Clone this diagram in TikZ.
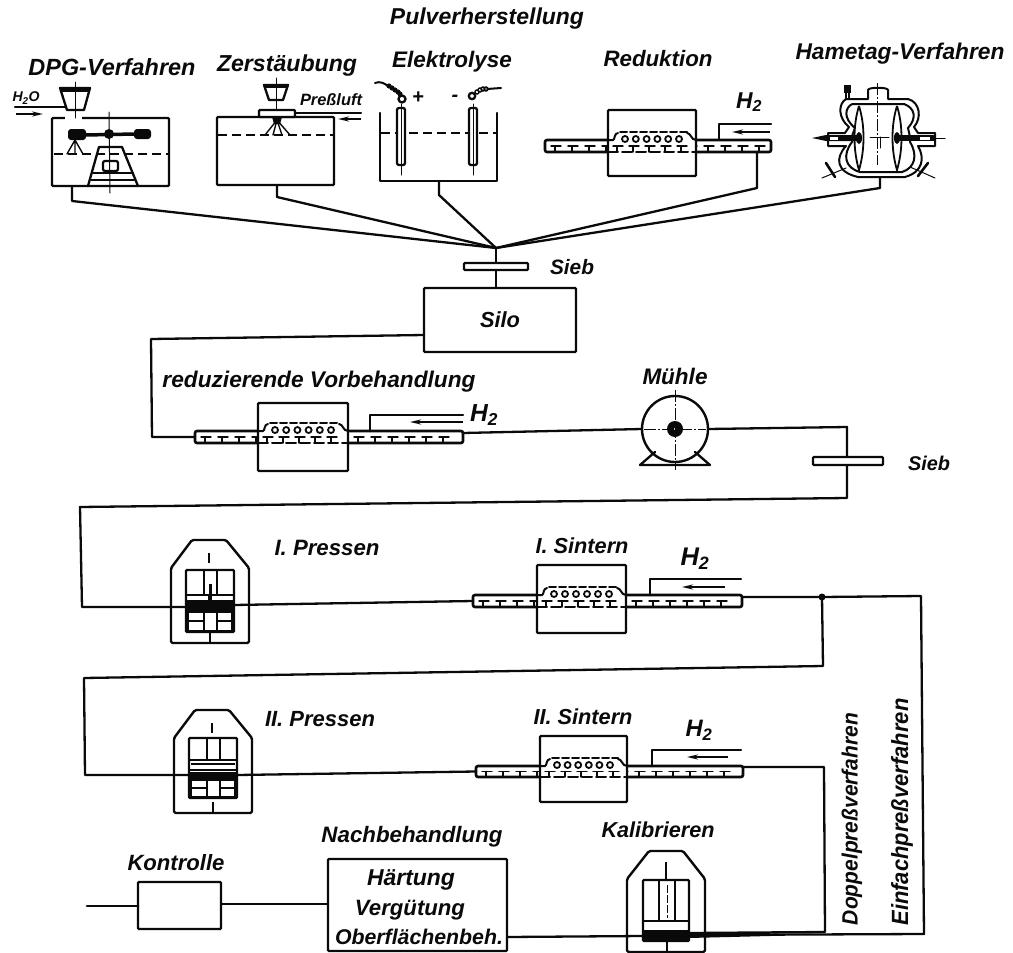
\documentclass[tikz,border=0pt]{standalone}
\usepackage{fontspec}
\setmainfont{Liberation Sans}
\usepackage{graphicx}
\usetikzlibrary{arrows.meta}
\definecolor{ink}{gray}{0.04}
\tikzset{
  ln/.style={line width=2.3pt,draw=ink,line join=round,line cap=round},
  thinln/.style={line width=1.4pt,draw=ink,line cap=round},
  procbox/.style={draw=ink,fill=white,line width=2.4pt,inner sep=0pt,outer sep=0pt,rounded corners=1pt},
  tubebox/.style={draw=ink,fill=white,line width=2.6pt,inner sep=0pt,outer sep=0pt,rounded corners=2pt},
  lab/.style={inner sep=0pt,outer sep=0pt,text=ink,font=\fontsize{20}{22}\selectfont\bfseries\itshape},
  flow/.style={line width=2pt,draw=ink,-{Stealth[length=11pt,width=5pt]}},
  level/.style={line width=2pt,draw=ink,dash pattern=on 9pt off 5pt},
  axis/.style={line width=1pt,draw=ink,dash pattern=on 12pt off 2pt on 2pt off 2pt},
}
% label scaled to a given width
\newcommand\lb[5]{\node[lab] (#1) at (#2,#3) {\resizebox{#4pt}{!}{#5}};}
% box by corners
\newcommand\bx[6][procbox]{\node[#1,minimum width={(#5-#3)*1pt},minimum height={(#6-#4)*1pt}] (#2) at ({(#3+#5)/2},{(#4+#6)/2}) {};}
% furnace: name, tube x1 x2 y1 y2, box x1 x2 y1 y2
\newcommand\furn[9]{%
  \bx[tubebox]{#1t}{#2}{#4}{#3}{#5}
  \pgfmathsetmacro\ymid{(#4+#5)/2}
  \foreach \q in {0,1,...,15}{
    \pgfmathsetmacro\xa{#2+6+\q*17}
    \pgfmathparse{\xa+10<#3 ? 1:0}
    \ifnum\pgfmathresult=1
      \draw[thinln] (\xa,\ymid) -- ++(10,0);
      \draw[thinln] (\xa+4,\ymid) -- (\xa+4,#5);
    \fi
  }
  \bx{#1}{#6}{#8}{#7}{#9}
  \draw[thinln,line width=2pt] (#6,#4) -- (#6+5,#4) .. controls (#6+7,#4) and (#6+6,#4-7) .. (#6+10,#4-7);
  \draw[thinln,line width=2pt,dash pattern=on 7pt off 3pt] (#6+12,#4-8) -- (#7-9,#4-8);
  \draw[thinln,line width=2pt] (#7-9,#4-7) .. controls (#7-5,#4-7) and (#7-5,#4) .. (#7,#4);
  \foreach \q in {0,...,5}
    \draw[thinln,line width=1.8pt] ({#6+17+\q*(#7-#6-34)/5},#4-1) circle (3pt);
  \draw[thinln,line width=2pt,dash pattern=on 10pt off 4pt] (#6,#5) -- (#7,#5);
  \foreach \q in {0,1,2,3,4}{
    \pgfmathsetmacro\xa{#6+5+\q*16}
    \draw[thinln] (\xa,\ymid) -- ++(10,0);
    \draw[thinln] (\xa+4,\ymid) -- (\xa+4,#5);
  }
}
% gas feed: name, pipe x, pipe top, tube top, end x, arrow x1, x2, y
\newcommand\feed[8]{%
  \coordinate (#1a) at (#2,#4);
  \coordinate (#1b) at (#5,#3);
  \draw[ln] (#1a) |- (#1b);
  \coordinate (#1c) at (#7,#8);
  \coordinate (#1d) at (#6,#8);
  \draw[flow] (#1c) -- (#1d);
}
\newcommand\pressbody{%
  \draw[ln,line width=2.4pt,rounded corners=1.5pt] (171,568) -- (192,540) -- (226,540) -- (249,568) -- (249,643) -- (171,643) -- cycle;
  \draw[line width=1.2pt,draw=ink] (209,553) -- (209,563);
  \draw[line width=1.2pt,draw=ink] (210,632) -- (210,643);
}
\begin{document}
\begin{tikzpicture}[x=1pt,y=-1pt]
\useasboundingbox (0,0) rectangle (1013,953);
\fill[white] (0,0) rectangle (1013,953);

%%% Labels
\lb{title}{487}{19}{194}{Pulverherstellung}
\lb{ldpg}{112}{67}{167}{DPG-Verfahren}
\lb{lzer}{287}{66}{140}{Zerstäubung}
\lb{lele}{452}{62}{120}{Elektrolyse}
\lb{lred}{658}{59}{109}{Reduktion}
\lb{lham}{900}{54}{209}{Hametag-Verfahren}
\lb{lsieb}{572}{267}{44}{Sieb}
\lb{lvor}{319}{382}{313}{reduzierende Vorbehandlung}
\lb{lmuh}{675}{376}{65}{Mühle}
\lb{lsieb2}{929}{463}{42}{Sieb}
\lb{lp1}{327}{548}{105}{I. Pressen}
\lb{ls1}{582}{546}{93}{I. Sintern}
\lb{lp2}{320}{719}{110}{II. Pressen}
\lb{ls2}{583}{717}{99}{II. Sintern}
\lb{lkon}{176}{863}{97}{Kontrolle}
\lb{lnach}{412}{837}{181}{Nachbehandlung}
\lb{lkal}{658}{830}{113}{Kalibrieren}
\lb{lh1}{749}{102}{26}{H\textsubscript{2}}
\lb{lh2}{484}{415}{28}{H\textsubscript{2}}
\lb{lh3}{695}{559}{29}{H\textsubscript{2}}
\lb{lh4}{699}{730}{27}{H\textsubscript{2}}
\node[lab,rotate=90] (ldop) at (852,819) {\resizebox{212pt}{16pt}{Doppelpreßverfahren}};
\node[lab,rotate=90] (lein) at (902,812) {\resizebox{227pt}{17pt}{Einfachpreßverfahren}};

%%% DPG
\bx{dpg}{52}{118}{169}{186}
\fill[white] (65,115) rectangle (82,121);
\draw[level] (54,154) -- (169,154);
\draw[ln] (60,88) -- (90,88) -- (84,110) -- (67,110) -- cycle;
\fill[ink] (60,88) rectangle (90,92);
\draw[thinln,line width=1pt] (75,82) -- (75,118);
\draw[ln] (15,107) -- (66,107);
\coordinate (wa) at (16,114); \coordinate (wb) at (43,114);
\draw[flow] (wa) -- (wb);
\lb{lwater}{26}{98}{27}{H\textsubscript{2}O}
\fill[ink,rounded corners=3pt] (68,129) rectangle (86,140);
\fill[ink,rounded corners=3pt] (134,129) rectangle (151,139);
\draw[ink,line width=3.5pt] (85,135) -- (135,134);
\fill[ink] (109,134) circle (5pt);
\draw[thinln,line width=1pt] (109,112) -- (110,193);
\draw[thinln,line width=1.4pt] (75,140) -- (67,154) (75,140) -- (75,154) (75,140) -- (83,154);
\draw[ln] (88,186) -- (99,147) -- (122,147) -- (138,186);
\draw[thinln] (93,173) -- (133,173) (91,180) -- (135,180);
\draw[ln,rounded corners=2pt] (103,161) rectangle (118,171);

%%% Zerstaeubung
\bx{zer}{217}{117}{334}{185}
\draw[level] (218,135) -- (334,135);
\draw[ln] (264,85) -- (288,85) -- (283,100) -- (269,100) -- cycle;
\fill[ink] (264,85) rectangle (288,88);
\draw[thinln,line width=1pt] (276,78) -- (276,118);
\bx{zerlid}{259}{110}{295}{117}
\fill[ink] (272,117) -- (282,117) -- (280,124) -- (274,124) -- cycle;
\draw[thinln,line width=1.4pt] (277,120) -- (265,135) (277,120) -- (273,135) (277,120) -- (282,135) (277,120) -- (290,135);
\lb{lpress}{331}{100}{62}{Preßluft}
\coordinate (za) at (361,113);
\draw[ln] (zerlid.east |- za) -- (za);
\coordinate (zb) at (361,119); \coordinate (zc) at (338,119);
\draw[flow] (zb) -- (zc);

%%% Elektrolyse
\coordinate (ta) at (380,113); \coordinate (tb) at (497,113);
\draw[ln] (ta) -- (380,181) -- (497,181) -- (tb);
\draw[level] (381,133) -- (497,133);
\draw[ln,fill=white,rounded corners=2pt] (397,108) rectangle (405,165);
\draw[ln,fill=white,rounded corners=2pt] (469,108) rectangle (477,165);
\draw[thinln,line width=1pt] (401,104) -- (401,175) (473,104) -- (473,175);
\draw[ln] (402,99) circle (3.5pt) (472,96) circle (3.2pt);
\draw[ln,line width=2pt] (375,83) .. controls (380,81) and (384,83) .. (388,86);
\foreach \p in {(389,86),(392,88),(395,90),(398,92),(400,94)} \fill[ink] \p circle (2.6pt);
\foreach \p in {(477,92),(480,90),(483,89),(486,89)} \draw[ink,line width=1.4pt] \p circle (2pt);
\draw[ln,line width=2pt] (487,89) -- (501,88);
\node[lab] (lplus) at (418,98) {+};
\node[lab] (lminus) at (455,98) {-};

%%% Reduktion
\furn{red}{545}{771}{140}{152}{608}{696}{110}{176}
\feed{redg}{719}{124}{140}{771}{732}{770}{132}

%%% Hametag
\draw[line width=2pt,draw=ink,line join=round] (846,99) -- (868,99) -- (868,90) .. controls (868,87) and (888,87) .. (888,90) -- (888,99) -- (908,99)
  .. controls (920,102) and (922,118) .. (914,127) -- (918,133) -- (935,133) -- (935,146) -- (918,146)
  .. controls (925,158) and (923,172) .. (905,177) -- (858,177)
  .. controls (836,172) and (835,158) .. (846,146) -- (828,146) -- (828,133) -- (845,133) -- (849,127)
  .. controls (838,118) and (838,104) .. (846,99) -- cycle;
\draw[line width=2pt,draw=ink] (852,104) -- (904,104) .. controls (915,108) and (917,118) .. (908,128) -- (910,137) -- (910,142) .. controls (918,155) and (915,168) .. (902,172) -- (860,172)
  .. controls (845,168) and (842,155) .. (852,142) -- (852,136) -- (855,128) .. controls (843,118) and (845,108) .. (852,104);
\draw[line width=1.8pt,draw=ink,fill=white] (859,106) .. controls (853,125) and (853,150) .. (859,170) .. controls (865,150) and (865,125) .. (859,106);
\draw[line width=1.8pt,draw=ink,fill=white] (897,106) .. controls (891,125) and (891,150) .. (897,170) .. controls (903,150) and (903,125) .. (897,106);
\fill[ink] (897,138) ellipse (3pt and 6pt) (859,138) ellipse (3pt and 6pt);
\fill[ink] (812,138) -- (826,135) -- (858,135) -- (858,141) -- (826,141) -- cycle;
\fill[white] (830,137) rectangle (838,139.5);
\fill[ink] (897,135) rectangle (935,141);
\fill[white] (920,137) rectangle (930,139.5);
\draw[thinln,line width=1pt] (935,138) -- (945,138) (870,137) -- (889,137) (880,137) -- (880,148);
\draw[axis] (877,83) -- (877,165);
\fill[ink] (844,85) rectangle (851,93);
\draw[thinln] (846,93) -- (846,99) (849,93) -- (849,99);
\draw[ln,line width=2.6pt] (826,163) -- (835,177) (918,176) -- (928,163);
\draw[thinln,line width=1pt] (822,178) -- (846,168) (910,167) -- (935,178);
\coordinate (hamout) at (880,178);

%%% Junction, sieve, silo
\coordinate (J) at (496,248);
\coordinate (dpgo) at (72,186); \coordinate (zero) at (277,185);
\coordinate (eleo) at (439,181); \coordinate (redo) at (757,152);
\draw[ln] (dpgo) -- (72,201) -- (J);
\draw[ln] (zero) -- (277,197) -- (J);
\draw[ln] (eleo) -- (439,195) -- (J);
\draw[ln] (redo) -- (757,188) -- (J);
\draw[ln] (hamout) -- (880,188) -- (J);
\bx{silo}{424}{288}{576}{352}
\lb{lsilo}{500}{320}{40}{Silo}
\draw[ln] (J) -- (silo.north -| J);
\bx{siebA}{464}{263}{528}{270}

%%% Vorbehandlung + Muehle
\furn{vor}{195}{463}{431}{443}{258}{348}{403}{471}
\feed{vorg}{370}{415}{431}{463}{410}{463}{422}
\coordinate (silol) at (424,335);
\coordinate (c1) at (151,339); \coordinate (c2) at (152,437);
\draw[ln] (silol) -- (c1) -- (c2) -- (vort.west);
\node[draw=ink,line width=2.4pt,circle,minimum size=66pt,inner sep=0pt,outer sep=0pt,fill=white] (muhle) at (675,429) {};
\coordinate (vorr) at (463,433);
\draw[ln] (vorr) -- (muhle.west);
\draw[ln] (655,452) -- (640,465) -- (710,465) -- (695,452);
\fill[ink] (muhle.center) circle (8pt);
\fill[white] (muhle.center) circle (1.2pt);
\draw[axis] (675,390) -- (675,470) (644,429) -- (706,429);
\bx{siebB}{813}{457}{883}{465}
\coordinate (c3) at (847,427); \coordinate (c4) at (847,498);
\coordinate (c5) at (80,507); \coordinate (c6) at (82,607);
\draw[ln] (muhle.east) -- (c3) -- (siebB.north -| c3);
\draw[ln] (siebB.south -| c3) -- (c4) -- (c5) -- (c6) -- (186,607);

%%% I. Pressen
\pressbody
\bx{pressA}{186}{570}{234}{632}
\fill[ink] (186,602) rectangle (234,612);
\draw[ln,line width=1.8pt] (204,571) -- (204,594) (217,571) -- (217,594);
\draw[ink,line width=1.8pt] (186,595) -- (234,595);
\draw[ink,line width=1.8pt] (186,601) -- (234,601) (209,595) -- (209,601);
\fill[ink] (209,584) rectangle (212,600);
\draw[ink,line width=1.8pt] (188,612) rectangle (232,631);
\draw[ink,line width=1.8pt] (189,621) -- (204,621) (217,621) -- (232,621) (204,612) -- (204,631) (217,612) -- (217,631);

%%% I. Sintern
\furn{sa}{473}{742}{595}{607}{537}{626}{565}{633}
\feed{sag}{650}{579}{595}{741}{682}{725}{587}
\coordinate (pAr) at (234,605);
\draw[ln] (pAr) -- (sat.west);
\coordinate (K) at (822,597);
\coordinate (c7) at (921,596); \coordinate (c8) at (924,934);
\draw[ln] (sat.east |- K) -- (K) -- (c7) -- (c8) -- (689,935);
\fill[ink] (K) circle (3.5pt);

%%% II. Pressen
\begin{scope}[shift={(3,170)}]
\pressbody
\bx{pressB}{186}{568}{234}{628}
\fill[ink] (186,602) rectangle (234,610);
\draw[ln,line width=1.8pt] (204,569) -- (204,590) (217,569) -- (217,590);
\draw[ink,line width=1.8pt] (186,590) -- (234,590);
\draw[ink,line width=1.8pt] (188,594) -- (232,594) (186,600) -- (234,600);
\draw[ink,line width=1.8pt] (188,610) rectangle (232,627);
\draw[ink,line width=1.8pt] (189,618) -- (204,618) (217,618) -- (232,618) (204,610) -- (204,627) (217,610) -- (217,627);
\end{scope}
\coordinate (c9) at (823,666); \coordinate (c10) at (84,678); \coordinate (c11) at (85,775);
\draw[ln] (K) -- (c9) -- (c10) -- (c11) -- (189,775);

%%% II. Sintern
\furn{sb}{476}{743}{766}{777}{540}{627}{736}{802}
\feed{sbg}{652}{750}{766}{741}{687}{728}{757}
\coordinate (pBr) at (237,775);
\draw[ln] (pBr) -- (sbt.west);
\coordinate (c12) at (824,767); \coordinate (c13) at (825,932);
\draw[ln] (sbt.east |- c12) -- (c12) -- (c13) -- (689,933);

%%% Kalibrieren
\draw[ln,line width=2.4pt,rounded corners=1.5pt] (627,879) -- (649,851) -- (683,851) -- (705,879) -- (705,952) -- (627,952) -- cycle;
\draw[line width=1.2pt,draw=ink] (666,862) -- (666,880) (667,941) -- (667,952);
\bx{kal}{643}{880}{689}{941}
\fill[ink] (643,930) rectangle (689,941);
\draw[ink,line width=1.8pt] (659,881) -- (659,920) (675,881) -- (675,920) (643,921) -- (689,921);
\draw[ink,line width=1pt,dash pattern=on 8pt off 2pt] (667,885) -- (667,918);

%%% Nachbehandlung
\bx{nach}{328}{859}{507}{951}
\lb{lhaer}{411}{880}{88}{Härtung}
\lb{lverg}{410}{910}{110}{Vergütung}
\lb{lober}{419}{937}{168}{Oberflächenbeh.}
\coordinate (c14) at (507,937);
\draw[ln] (c14) -- (643,936);
\fill[ink] (689,932) -- (770,933) -- (770,936) -- (689,938) -- cycle;

%%% Kontrolle
\bx{kon}{138}{882}{221}{929}
\coordinate (kin) at (87,906);
\draw[ln,line width=2.6pt] (kin) -- (kon.west |- kin);
\coordinate (nl) at (328,904);
\draw[ln] (nach.west |- nl) -- (kon.east |- nl);
\end{tikzpicture}
\end{document}
